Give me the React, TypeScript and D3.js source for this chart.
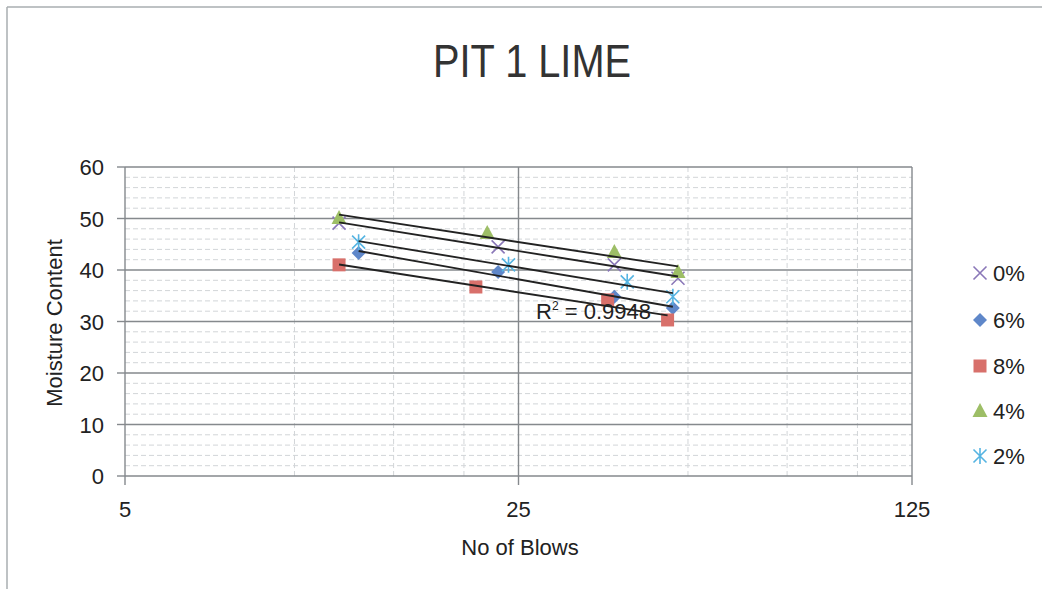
import React from "react";
import * as d3 from "d3";

const title = "PIT 1 LIME";
const xTicks = [5, 25, 125];
const xMinorGrid = [10, 15, 20, 50, 75, 100];
const yTicks = [0, 10, 20, 30, 40, 50, 60];
const seriesNames = ["0%", "6%", "8%", "4%", "2%"];
const blows0 = [12, 23, 37, 48];
const moist0 = [49.1, 44.5, 41.0, 38.4];
const blows6 = [13, 23, 37, 47];
const moist6 = [43.3, 39.6, 34.8, 32.6];
const blows8 = [12, 21, 36, 46];
const moist8 = [41.0, 36.7, 34.2, 30.3];
const blows4 = [12, 22, 37, 48];
const moist4 = [50.1, 47.2, 43.5, 39.6];
const blows2 = [13, 24, 39, 47];
const moist2 = [45.4, 41.0, 37.7, 34.8];
const r2Label = "0.9948";

const colors = ["#8a77b8", "#5f87c9", "#d8706b", "#9dbe66", "#55b4e2"];
const shapes = ["x", "diamond", "square", "triangle", "star"];

const FONT = "'Liberation Sans', Arial, sans-serif";

function Marker({ shape, cx, cy, color }: { shape: string; cx: number; cy: number; color: string }) {
  const s = 6.5;
  if (shape === "x")
    return (
      <path d={`M${cx - s},${cy - s}L${cx + s},${cy + s}M${cx - s},${cy + s}L${cx + s},${cy - s}`} stroke={color} strokeWidth={1.6} fill="none" />
    );
  if (shape === "diamond")
    return <path d={`M${cx},${cy - 7}L${cx + 7},${cy}L${cx},${cy + 7}L${cx - 7},${cy}Z`} fill={color} />;
  if (shape === "square") return <rect x={cx - 6.5} y={cy - 6.5} width={13} height={13} fill={color} />;
  if (shape === "triangle")
    return <path d={`M${cx},${cy - 8}L${cx + 7.5},${cy + 6}L${cx - 7.5},${cy + 6}Z`} fill={color} />;
  return (
    <path
      d={`M${cx - s},${cy - s}L${cx + s},${cy + s}M${cx - s},${cy + s}L${cx + s},${cy - s}M${cx},${cy - 8}L${cx},${cy + 8}`}
      stroke={color}
      strokeWidth={1.6}
      fill="none"
    />
  );
}

function logFit(xs: number[], ys: number[]) {
  const lx = xs.map((v) => Math.log(v));
  const mx = d3.mean(lx)!;
  const my = d3.mean(ys)!;
  let num = 0, den = 0;
  lx.forEach((v, i) => {
    num += (v - mx) * (ys[i] - my);
    den += (v - mx) * (v - mx);
  });
  const a = num / den;
  const b = my - a * mx;
  return (x: number) => a * Math.log(x) + b;
}

export default function App() {
  const W = 1042, H = 589;
  const x = d3.scaleLog().base(5).domain([5, 125]).range([125, 912]);
  const y = d3.scaleLinear().domain([0, 60]).range([476, 167]);
  const series = [
    { b: blows0, m: moist0 },
    { b: blows6, m: moist6 },
    { b: blows8, m: moist8 },
    { b: blows4, m: moist4 },
    { b: blows2, m: moist2 },
  ];
  const minorY = d3.range(0, 61, 2).filter((v) => v % 10 !== 0);
  const line = d3.line<number[]>().x((d) => x(d[0])).y((d) => y(d[1]));
  const legendY = [273, 320, 366, 411, 456];

  return (
    <svg width={W} height={H} style={{ position: "absolute", left: 0, top: 0, background: "#fff" }} fontFamily={FONT}>
      <rect width={W} height={H} fill="#fff" />
      {/* outer frame */}
      <line x1={7} x2={W} y1={7} y2={7} stroke="#a8aeb0" strokeWidth={1.5} />
      <line x1={7} x2={7} y1={7} y2={H} stroke="#a8aeb0" strokeWidth={1.5} />

      <text x={532} y={77} textAnchor="middle" fontSize={47} fill="#333" textLength={198} lengthAdjust="spacingAndGlyphs">
        {title}
      </text>

      {/* minor horizontal grid */}
      {minorY.map((v) => (
        <line key={"my" + v} x1={125} x2={912} y1={y(v)} y2={y(v)} stroke="#d2d5d8" strokeWidth={1} strokeDasharray="5,3" />
      ))}
      {/* minor vertical grid */}
      {xMinorGrid.map((v) => (
        <line key={"mx" + v} x1={x(v)} x2={x(v)} y1={167} y2={476} stroke="#d2d5d8" strokeWidth={1} strokeDasharray="5,3" />
      ))}
      {/* major grid */}
      {yTicks.map((v) => (
        <line key={"gy" + v} x1={125} x2={912} y1={y(v)} y2={y(v)} stroke="#85898d" strokeWidth={1.4} />
      ))}
      {xTicks.map((v) => (
        <line key={"gx" + v} x1={x(v)} x2={x(v)} y1={167} y2={476} stroke="#85898d" strokeWidth={1.4} />
      ))}

      {/* axis ticks */}
      {yTicks.map((v) => (
        <line key={"ty" + v} x1={117} x2={125} y1={y(v)} y2={y(v)} stroke="#85898d" strokeWidth={1.4} />
      ))}
      {xTicks.map((v) => (
        <line key={"tx" + v} x1={x(v)} x2={x(v)} y1={476} y2={485} stroke="#85898d" strokeWidth={1.4} />
      ))}

      {/* tick labels */}
      {yTicks.map((v) => (
        <text key={"ly" + v} x={104} y={y(v) + 8} textAnchor="end" fontSize={22} fill="#222">
          {v}
        </text>
      ))}
      {xTicks.map((v) => (
        <text key={"lx" + v} x={x(v)} y={517} textAnchor="middle" fontSize={22} fill="#222">
          {v}
        </text>
      ))}

      <text x={520} y={555} textAnchor="middle" fontSize={22} fill="#222">
        No of Blows
      </text>
      <text transform="translate(62,323) rotate(-90)" textAnchor="middle" fontSize={22} fill="#222">
        Moisture Content
      </text>

      {/* markers */}
      {series.map((s, i) =>
        s.b.map((bv, j) => <Marker key={`m${i}-${j}`} shape={shapes[i]} cx={x(bv)} cy={y(s.m[j])} color={colors[i]} />)
      )}

      {/* trendlines */}
      {series.map((s, i) => {
        const f = logFit(s.b, s.m);
        const x0 = d3.min(s.b)!, x1 = d3.max(s.b)!;
        return <path key={"t" + i} d={line([[x0, f(x0)], [x1, f(x1)]])!} stroke="#222" strokeWidth={1.9} fill="none" />;
      })}

      <text x={536} y={319} fontSize={22} fill="#222">
        R<tspan fontSize={12} dy={-9}>2</tspan>
        <tspan dy={9}> = {r2Label}</tspan>
      </text>

      {/* legend */}
      {seriesNames.map((n, i) => (
        <g key={"lg" + i}>
          <Marker shape={shapes[i]} cx={980} cy={legendY[i]} color={colors[i]} />
          <text x={993} y={legendY[i] + 8} fontSize={22} fill="#222">
            {n}
          </text>
        </g>
      ))}
    </svg>
  );
}
